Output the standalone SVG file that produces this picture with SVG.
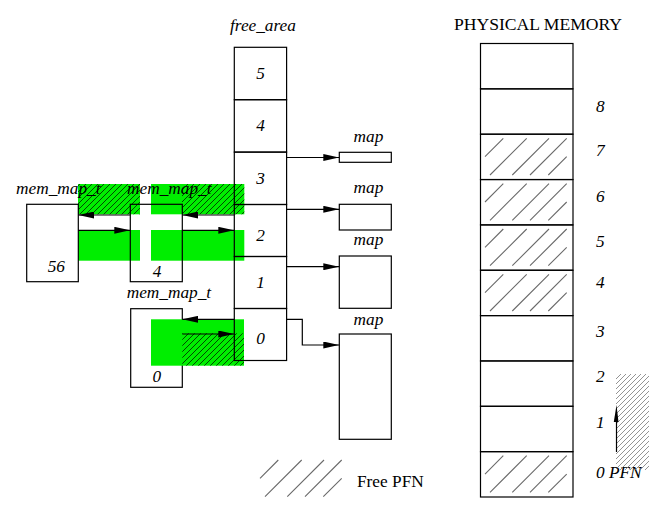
<svg xmlns="http://www.w3.org/2000/svg" xmlns:xlink="http://www.w3.org/1999/xlink" width="662" height="524" viewBox="0 0 662 524">
<style>
.box{fill:none;stroke:#000;stroke-width:1.2}
.ln{fill:none;stroke:#000;stroke-width:1.2}
.it{font-family:"Liberation Serif",serif;font-style:italic;font-size:17.3px;fill:#000}
.rm{font-family:"Liberation Serif",serif;font-size:17.3px;fill:#000}
.mid{text-anchor:middle}
.green{fill:#00ee00;stroke:none}
.hl{stroke:#6a6a6a;stroke-width:1.1;fill:none}
</style>
<defs>
<marker id="ah" viewBox="0 0 16 7" refX="16" refY="3.5" markerWidth="16" markerHeight="7" markerUnits="userSpaceOnUse" orient="auto">
<path d="M0,0 L16,3.5 L0,7 z" fill="#000"/>
</marker>
<pattern id="ghatch" patternUnits="userSpaceOnUse" width="6" height="6">
<path d="M0,6 L6,0 M-1,1 L1,-1 M5,7 L7,5" stroke="#000" stroke-width="0.7"/>
</pattern>
<pattern id="fine" patternUnits="userSpaceOnUse" width="5" height="5">
<path d="M0,5 L5,0 M-1,1 L1,-1 M4,6 L6,4" stroke="#777" stroke-width="0.8"/>
</pattern>
<g id="hatch">
<path class="hl" d="M0,18.4 L18.3,0 M5,36.7 L41.7,0 M27.3,36.7 L64,0 M45,36.7 L81.7,0 M63.3,36.7 L81.7,18.4"/>
</g>
</defs>

<!-- green highlight areas -->
<g id="highlights">
<rect class="green" x="78" y="184" width="62" height="30.3"/>
<rect fill="url(#ghatch)" x="78" y="184" width="62" height="30.3"/>
<rect class="green" x="151" y="184" width="93.3" height="30.3"/>
<rect fill="url(#ghatch)" x="182" y="184" width="62.3" height="30.3"/>
<rect class="green" x="78" y="230" width="62" height="30.7"/>
<rect class="green" x="151" y="230" width="93.3" height="30.7"/>
</g>

<!-- mem_map_t nodes -->
<g id="mem_map_56">
<rect class="box" x="26.7" y="204.3" width="51.6" height="77.4"/>
<text class="it mid" x="56.3" y="271.7">56</text>
</g>
<g id="mem_map_4">
<rect class="box" x="130.3" y="204.3" width="52" height="77.4"/>
<text class="it mid" x="157" y="276.7">4</text>
</g>
<g id="mem_map_0">
<rect class="box" x="130.7" y="308.7" width="51.6" height="78.6"/>
<text class="it mid" x="156.7" y="381.7">0</text>
</g>
<g id="highlight_0">
<rect class="green" x="151" y="319.3" width="93" height="46.4"/>
<rect fill="url(#ghatch)" x="182.3" y="333.3" width="61.7" height="32.4"/>
</g>

<text class="it" x="16" y="194">mem_map_t</text>
<text class="it" x="127" y="194">mem_map_t</text>
<text class="it" x="126.7" y="298">mem_map_t</text>

<!-- free_area -->
<text class="it" x="230" y="31">free_area</text>
<g id="free_area_5"><rect class="box" x="234.3" y="47.3" width="52.3" height="52.4"/><text class="it mid" x="260.5" y="79">5</text></g>
<g id="free_area_4"><rect class="box" x="234.3" y="99.7" width="52.3" height="52.4"/><text class="it mid" x="260.5" y="131">4</text></g>
<g id="free_area_3"><rect class="box" x="234.3" y="152.1" width="52.3" height="52.4"/><text class="it mid" x="260.5" y="184">3</text></g>
<g id="free_area_2"><rect class="box" x="234.3" y="204.5" width="52.3" height="52"/><text class="it mid" x="260.5" y="241">2</text></g>
<g id="free_area_1"><rect class="box" x="234.3" y="256.5" width="52.3" height="52"/><text class="it mid" x="260.5" y="288">1</text></g>
<g id="free_area_0"><rect class="box" x="234.3" y="308.5" width="52.3" height="52"/><text class="it mid" x="260.5" y="344">0</text></g>

<!-- map nodes -->
<g id="map_3"><text class="it mid" x="368.5" y="142">map</text><rect class="box" x="339.3" y="152.3" width="52" height="10"/></g>
<g id="map_2"><text class="it mid" x="368.5" y="193">map</text><rect class="box" x="339.3" y="204.3" width="52" height="25.7"/></g>
<g id="map_1"><text class="it mid" x="368.5" y="245">map</text><rect class="box" x="339.3" y="256" width="52" height="52.3"/></g>
<g id="map_0"><text class="it mid" x="368.5" y="325">map</text><rect class="box" x="339.3" y="334" width="52" height="105.3"/></g>

<!-- connectors -->
<g id="connectors">
<path class="ln" d="M286.6,157.5 L339.3,157.5" marker-end="url(#ah)"/>
<path class="ln" d="M286.6,209.3 L339.3,209.3" marker-end="url(#ah)"/>
<path class="ln" d="M286.6,266.7 L339.3,266.7" marker-end="url(#ah)"/>
<path class="ln" d="M286.6,319.3 L302.3,319.3 L302.3,345 L339.3,345" marker-end="url(#ah)"/>
<path class="ln" d="M130.3,215 L78.3,215" marker-end="url(#ah)"/>
<path class="ln" d="M78.3,230.3 L130.3,230.3" marker-end="url(#ah)"/>
<path class="ln" d="M234.3,215 L182.3,215" marker-end="url(#ah)"/>
<path class="ln" d="M182.3,230.3 L234.3,230.3" marker-end="url(#ah)"/>
<path class="ln" d="M234.3,319.3 L182.3,319.3" marker-end="url(#ah)"/>
<path class="ln" d="M182.3,334 L234.3,334" marker-end="url(#ah)"/>
</g>

<!-- physical memory -->
<text class="rm" x="454" y="30" style="font-size:17.6px">PHYSICAL MEMORY</text>
<g id="pm_9"><rect class="box" x="480.5" y="43.5" width="92.5" height="45.35"/></g>
<g id="pm_8"><rect class="box" x="480.5" y="88.85" width="92.5" height="45.35"/><text class="it" x="596" y="111.5">8</text></g>
<g id="pm_7"><rect class="box" x="480.5" y="134.2" width="92.5" height="45.35"/><use xlink:href="#hatch" x="485" y="138.3"/><text class="it" x="596" y="156">7</text></g>
<g id="pm_6"><rect class="box" x="480.5" y="179.55" width="92.5" height="45.35"/><use xlink:href="#hatch" x="485" y="183.6"/><text class="it" x="596" y="201.5">6</text></g>
<g id="pm_5"><rect class="box" x="480.5" y="224.9" width="92.5" height="45.35"/><use xlink:href="#hatch" x="485" y="229"/><text class="it" x="596" y="246.5">5</text></g>
<g id="pm_4"><rect class="box" x="480.5" y="270.25" width="92.5" height="45.35"/><use xlink:href="#hatch" x="485" y="274.3"/><text class="it" x="596" y="288">4</text></g>
<g id="pm_3"><rect class="box" x="480.5" y="315.6" width="92.5" height="45.35"/><text class="it" x="596" y="337">3</text></g>
<g id="pm_2"><rect class="box" x="480.5" y="360.95" width="92.5" height="45.35"/><text class="it" x="596" y="382">2</text></g>
<g id="pm_1"><rect class="box" x="480.5" y="406.3" width="92.5" height="45.35"/><text class="it" x="596" y="428">1</text></g>
<g id="pm_0"><rect class="box" x="480.5" y="451.65" width="92.5" height="45.35"/><use xlink:href="#hatch" x="485" y="455.7"/><text class="it" x="596" y="478">0 PFN</text></g>

<!-- partial hatched area at right edge -->
<rect fill="url(#fine)" x="616" y="374" width="33" height="96"/>
<path class="ln" d="M616.5,452 L616.5,420"/>
<path d="M616.5,405 L613.8,422 L618.5,422 z" fill="#000"/>

<!-- legend -->
<use xlink:href="#hatch" x="260" y="460"/>
<text class="rm" x="357" y="486.5">Free PFN</text>
</svg>
